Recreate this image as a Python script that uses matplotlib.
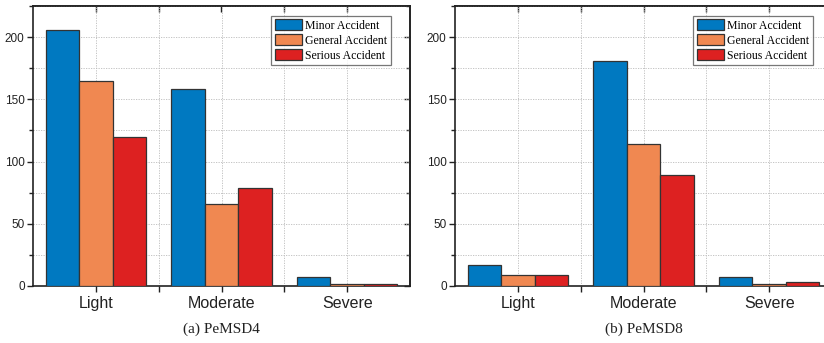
import matplotlib
matplotlib.use("Agg")
import matplotlib.pyplot as plt
import numpy as np
from matplotlib.ticker import MultipleLocator, FixedLocator, NullFormatter

categories = ["Light", "Moderate", "Severe"]
series_names = ["Minor Accident", "General Accident", "Serious Accident"]
pemsd4_minor = [206, 158, 7]
pemsd4_general = [165, 66, 2]
pemsd4_serious = [120, 79, 1.5]
pemsd8_minor = [17, 181, 7]
pemsd8_general = [9, 114, 1.5]
pemsd8_serious = [9, 89, 3]
captions = ["(a) PeMSD4", "(b) PeMSD8"]
colors = ["#0079C1", "#F08851", "#DD2121"]

fig = plt.figure(figsize=(8.24, 3.43), dpi=100)
W, H = 824, 343

def add_axes_px(x0, x1, ytop, ybot):
    return fig.add_axes([x0 / W, 1 - ybot / H, (x1 - x0) / W, (ybot - ytop) / H])

ax1 = add_axes_px(33, 410, 6, 286)
ax2 = add_axes_px(455, 832, 6, 286)

datasets = [
    (ax1, [pemsd4_minor, pemsd4_general, pemsd4_serious], captions[0]),
    (ax2, [pemsd8_minor, pemsd8_general, pemsd8_serious], captions[1]),
]

x = np.arange(len(categories))
bw = 0.8 / 3
ink = "#222222"
for ax, series, cap in datasets:
    for i, (vals, name, c) in enumerate(zip(series, series_names, colors)):
        ax.bar(x + (i - 1) * bw, vals, width=bw, color=c, edgecolor="#333333",
               linewidth=0.9, label=name, zorder=3)
    ax.set_xlim(-0.5, 2.5)
    ax.set_ylim(0, 225)
    ax.set_xticks(x)
    ax.set_xticklabels(categories, fontsize=11.5, family="Liberation Sans")
    ax.xaxis.set_minor_locator(FixedLocator([0.5, 1.5]))
    ax.yaxis.set_major_locator(MultipleLocator(50))
    ax.yaxis.set_minor_locator(MultipleLocator(25))
    for lab in ax.get_yticklabels():
        lab.set_family("Liberation Sans")
        lab.set_fontsize(8.5)
    ax.tick_params(axis="both", which="both", direction="out", width=1.0,
                   color=ink, labelcolor=ink)
    ax.tick_params(axis="y", which="major", length=4, pad=2)
    ax.tick_params(axis="y", which="minor", length=3)
    ax.tick_params(axis="x", which="major", length=4, pad=3)
    ax.tick_params(axis="x", which="minor", length=4)

    # inward ticks on top and right
    top = ax.secondary_xaxis("top")
    top.set_xticks(x)
    top.xaxis.set_minor_locator(FixedLocator([0.5, 1.5]))
    top.tick_params(axis="x", which="both", direction="in", length=4, width=1.0,
                    color=ink, labeltop=False)
    top.spines["top"].set_linewidth(1.2)
    top.spines["top"].set_color(ink)
    right = ax.secondary_yaxis("right")
    right.yaxis.set_major_locator(MultipleLocator(50))
    right.yaxis.set_minor_locator(MultipleLocator(25))
    right.tick_params(axis="y", which="major", direction="in", length=4, width=1.0,
                      color=ink, labelright=False)
    right.tick_params(axis="y", which="minor", direction="in", length=3, width=1.0,
                      color=ink, labelright=False)
    right.spines["right"].set_linewidth(1.2)
    right.spines["right"].set_color(ink)

    ax.grid(True, which="both", linestyle=(0, (1.5, 1.5)), color="#bbbbbb",
            linewidth=0.6, zorder=0)
    ax.set_axisbelow(True)
    for s in ax.spines.values():
        s.set_linewidth(1.2)
        s.set_color(ink)
    leg = ax.legend(loc="upper right", bbox_to_anchor=(0.95, 0.965),
                    prop={"family": "Liberation Serif", "size": 8.5},
                    frameon=True, fancybox=False, edgecolor="#555555",
                    handlelength=2.3, handleheight=1.05, handletextpad=0.3,
                    labelspacing=0.2, borderpad=0.3, borderaxespad=0.0)
    leg.get_frame().set_linewidth(0.9)
    leg.set_zorder(5)
    ax.text(0.5, -0.155, cap, transform=ax.transAxes, ha="center", va="center",
            fontsize=11, family="Liberation Serif", color=ink)

fig.savefig("out.png", dpi=100)
